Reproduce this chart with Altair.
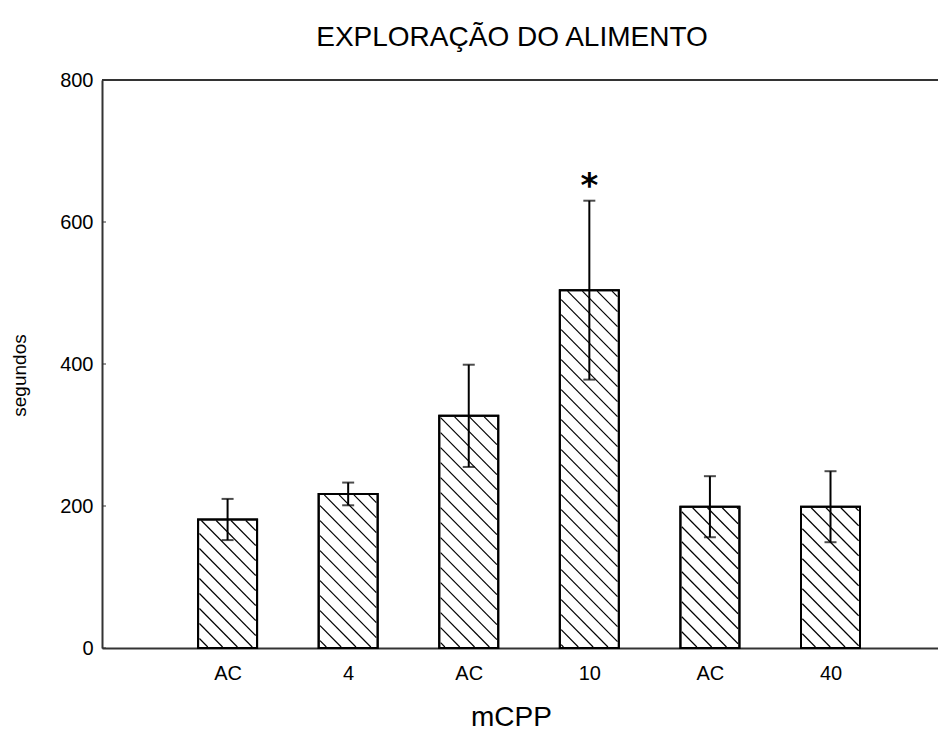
import json
import altair as alt
import pandas as pd

# ---- data ----
categories = ["AC", "4", "AC", "10", "AC", "40"]
positions = [1, 2, 3, 4, 5, 6]
means = [181, 217, 327, 504, 199, 199]
errors = [29, 16, 72, 126, 43, 50]
marks = ["", "", "", "*", "", ""]
title_text = ["EXPLORAÇÃO DO ALIMENTO"]
y_ticks = [0, 200, 400, 600, 800]

# ---- layout / style constants ----
W, H = 836, 568
X_MAX = 6.85
Y_MAX = 800
BAR_PX = 59
HATCH_STEP = 15
FONT = "Liberation Sans"
AXIS_COLOR = "#333333"

df = pd.DataFrame({
    "pos": positions,
    "cat": categories,
    "mean": means,
    "err": errors,
    "mark": marks,
})
df["lo"] = df["mean"] - df["err"]
df["hi"] = df["mean"] + df["err"]

# hatch segments (diagonal lines at 45 deg) clipped to each bar
sx = W / X_MAX
sy = H / Y_MAX
rows = []
for p, m in zip(positions, means):
    xl = p * sx - BAR_PX / 2 + 1
    xr = p * sx + BAR_PX / 2 - 1
    yt = (Y_MAX - m) * sy + 1
    yb = H - 1
    for k in range(-200, 200):
        c = k * HATCH_STEP
        X1 = max(xl, yt - c)
        X2 = min(xr, yb - c)
        if X2 - X1 > 0.5:
            rows.append({
                "x": X1 / sx, "x2": X2 / sx,
                "y": Y_MAX - (X1 + c) / sy, "y2": Y_MAX - (X2 + c) / sy,
            })
hatch_df = pd.DataFrame(rows)

label_expr = json.dumps(categories) + "[datum.value - 1]"

x_scale = alt.Scale(domain=[0, X_MAX], nice=False, zero=False)
y_scale = alt.Scale(domain=[0, Y_MAX], nice=False)

x_axis = alt.Axis(
    values=positions, labelExpr=label_expr, title="mCPP", grid=False,
    tickSize=0, labelPadding=15, labelFontSize=20, labelFont=FONT,
    labelColor="black", titleFont=FONT, titleFontSize=28,
    titleFontWeight="normal", titleColor="black",
    titleX=409, titleY=77, titleBaseline="alphabetic",
    domainColor=AXIS_COLOR, domainWidth=2,
)
y_axis = alt.Axis(
    values=y_ticks, title="segundos", grid=False,
    tickSize=0, labelPadding=9, labelFontSize=20, labelFont=FONT,
    labelColor="black", titleFont=FONT, titleFontSize=19,
    titleFontWeight="normal", titleColor="black",
    titleX=-83, titleY=295, titleBaseline="middle", titleAlign="center",
    domainColor=AXIS_COLOR, domainWidth=2,
)

base = alt.Chart(df)

bars = base.mark_bar(size=BAR_PX, fill="white", stroke="black", strokeWidth=2).encode(
    x=alt.X("pos:Q", scale=x_scale, axis=x_axis),
    y=alt.Y("mean:Q", scale=y_scale, axis=y_axis),
)

hatch = alt.Chart(hatch_df).mark_rule(color="black", strokeWidth=1.2).encode(
    x=alt.X("x:Q", scale=x_scale),
    x2="x2:Q",
    y=alt.Y("y:Q", scale=y_scale),
    y2="y2:Q",
)

outline = base.mark_bar(size=BAR_PX, fillOpacity=0, stroke="black", strokeWidth=2).encode(
    x=alt.X("pos:Q", scale=x_scale),
    y=alt.Y("mean:Q", scale=y_scale),
)

err_rule = base.mark_rule(color="black", strokeWidth=2).encode(
    x=alt.X("pos:Q", scale=x_scale),
    y=alt.Y("lo:Q", scale=y_scale),
    y2="hi:Q",
)
cap_hi = base.mark_tick(orient="horizontal", size=12, thickness=2, color="black").encode(
    x=alt.X("pos:Q", scale=x_scale),
    y=alt.Y("hi:Q", scale=y_scale),
)
cap_lo = base.mark_tick(orient="horizontal", size=12, thickness=2, color="black").encode(
    x=alt.X("pos:Q", scale=x_scale),
    y=alt.Y("lo:Q", scale=y_scale),
)

star = base.transform_filter("datum.mark != ''").mark_text(
    font="DejaVu Sans", fontSize=34, fontWeight="bold", color="black",
    baseline="alphabetic", dy=-4,
).encode(
    x=alt.X("pos:Q", scale=x_scale),
    y=alt.Y("hi:Q", scale=y_scale),
    text="mark:N",
)

top_line = alt.Chart(pd.DataFrame({"v": [Y_MAX]})).mark_rule(
    color=AXIS_COLOR, strokeWidth=2
).encode(y=alt.Y("v:Q", scale=y_scale))

# small inward ticks on the y axis
y_tick_marks = alt.Chart(pd.DataFrame({"v": y_ticks})).mark_rule(
    color=AXIS_COLOR, strokeWidth=1
).encode(y=alt.Y("v:Q", scale=y_scale), x=alt.value(0), x2=alt.value(4))

title = alt.Chart(pd.DataFrame({"t": title_text})).mark_text(
    font=FONT, fontSize=28, color="black", baseline="alphabetic", align="center",
).encode(x=alt.value(410), y=alt.value(-34), text="t:N")

chart = alt.layer(
    bars, hatch, outline, err_rule, cap_hi, cap_lo, star, top_line, y_tick_marks, title
).properties(
    width=W,
    height=H,
    autosize=alt.AutoSizeParams(type="none"),
    padding={"left": 94, "top": 72, "right": 0, "bottom": 85},
).configure_view(stroke="transparent", clip=False).configure(background="white")

chart.save("out.html", embed_options={"renderer": "svg", "actions": False})
